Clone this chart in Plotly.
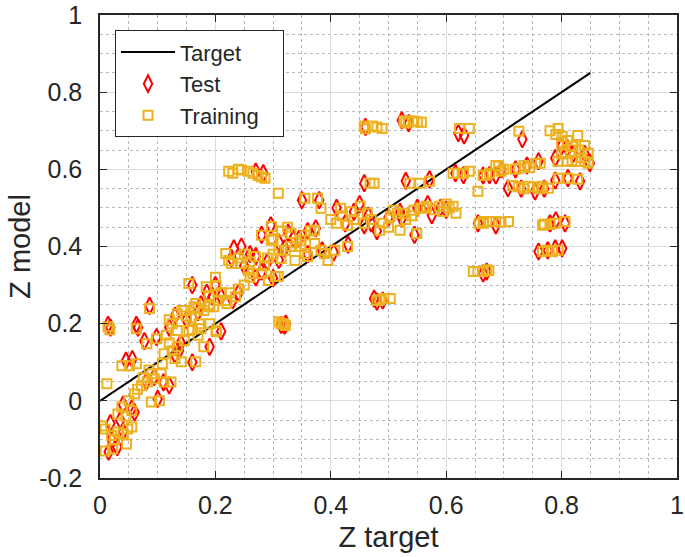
import plotly.graph_objects as go

# Target line
target_x = [0.0, 0.85]
target_y = [0.0, 0.85]

# Training points (squares)
train_x = [0.014, 0.017, 0.063, 0.086, 0.081, 0.098, 0.038, 0.051, 0.063, 0.012,
           0.134, 0.146, 0.163, 0.180, 0.197, 0.220, 0.134, 0.146, 0.134, 0.175,
           0.180, 0.202, 0.111, 0.108, 0.106, 0.141, 0.166, 0.082, 0.072, 0.094,
           0.111, 0.123, 0.060, 0.089, 0.103, 0.038, 0.031, 0.055, 0.009, 0.031,
           0.048, 0.055, 0.009, 0.022, 0.003, 0.046,
           0.223, 0.240, 0.257, 0.274, 0.286, 0.309, 0.154, 0.184, 0.201, 0.189,
           0.218, 0.235, 0.142, 0.166, 0.189, 0.172, 0.154, 0.201, 0.314, 0.321,
           0.218, 0.228, 0.245, 0.257, 0.280, 0.304, 0.269, 0.223, 0.297, 0.280,
           0.297, 0.331, 0.348, 0.355, 0.321, 0.314, 0.338, 0.360, 0.372, 0.383,
           0.389, 0.407, 0.429, 0.355, 0.377, 0.383, 0.417, 0.429, 0.451, 0.463,
           0.458, 0.475, 0.485, 0.503, 0.509, 0.527, 0.544, 0.520, 0.549, 0.566,
           0.588, 0.612, 0.617, 0.480, 0.503, 0.292, 0.309,
           0.458, 0.472, 0.489, 0.527, 0.544, 0.557, 0.623, 0.640, 0.726, 0.794,
           0.801, 0.828, 0.840, 0.846, 0.818, 0.794, 0.818, 0.846, 0.806,
           0.612, 0.630, 0.664, 0.686, 0.691, 0.655, 0.726, 0.755, 0.763, 0.715,
           0.743, 0.767, 0.777, 0.794, 0.811, 0.828, 0.468, 0.537, 0.554, 0.571,
           0.664, 0.686, 0.708, 0.657, 0.767, 0.789, 0.806, 0.767, 0.784, 0.794,
           0.647, 0.664, 0.674,
           0.372, 0.348, 0.395, 0.595, 0.561, 0.515,
           0.120, 0.125, 0.150, 0.158, 0.170, 0.190, 0.205, 0.210, 0.225, 0.240,
           0.250, 0.260, 0.265, 0.285, 0.290, 0.300, 0.310, 0.330, 0.340, 0.355,
           0.365, 0.300, 0.315, 0.325, 0.240, 0.250, 0.260, 0.200, 0.160, 0.170,
           0.190, 0.115, 0.120, 0.125, 0.130, 0.085, 0.090, 0.075, 0.065, 0.050,
           0.045, 0.020, 0.025, 0.040,
           0.400, 0.410, 0.420, 0.435, 0.440, 0.470, 0.490, 0.500, 0.530, 0.540,
           0.555, 0.580, 0.600, 0.605,
           0.800, 0.810, 0.820, 0.830, 0.835, 0.800, 0.810, 0.825, 0.840, 0.780,
           0.790, 0.695, 0.700, 0.720, 0.735, 0.745, 0.725, 0.735, 0.750, 0.760,
           0.670, 0.675, 0.620, 0.640,
           0.230, 0.245, 0.265, 0.280, 0.460, 0.480, 0.530, 0.535, 0.550,
           0.665, 0.675, 0.695, 0.770, 0.780, 0.775, 0.655, 0.670, 0.485, 0.492,
           0.318, 0.310]
train_y = [0.192, 0.184, 0.187, 0.239, 0.148, 0.161, 0.091, 0.091, 0.096, 0.044,
           0.226, 0.234, 0.244, 0.234, 0.244, 0.252, 0.182, 0.156, 0.140, 0.187,
           0.140, 0.179, 0.122, 0.096, 0.070, 0.101, 0.101, 0.049, 0.039, 0.057,
           0.049, 0.049, 0.018, -0.003, 0.000, -0.016, -0.034, -0.026, -0.073, -0.081,
           -0.073, -0.068, -0.130, -0.125, -0.065, -0.112,
           0.595, 0.600, 0.595, 0.584, 0.577, 0.538, 0.304, 0.296, 0.299, 0.270,
           0.260, 0.270, 0.234, 0.252, 0.244, 0.200, 0.182, 0.182, 0.200, 0.195,
           0.382, 0.356, 0.356, 0.338, 0.330, 0.322, 0.374, 0.364, 0.452, 0.429,
           0.416, 0.434, 0.416, 0.382, 0.390, 0.369, 0.364, 0.374, 0.408, 0.390,
           0.382, 0.390, 0.400, 0.525, 0.525, 0.499, 0.499, 0.455, 0.504, 0.486,
           0.460, 0.564, 0.442, 0.478, 0.494, 0.486, 0.494, 0.442, 0.434, 0.504,
           0.504, 0.504, 0.486, 0.260, 0.265, 0.312, 0.322,
           0.712, 0.712, 0.706, 0.725, 0.725, 0.722, 0.706, 0.706, 0.699, 0.706,
           0.686, 0.688, 0.662, 0.642, 0.660, 0.621, 0.623, 0.616, 0.642,
           0.590, 0.590, 0.584, 0.610, 0.608, 0.543, 0.603, 0.616, 0.616, 0.558,
           0.556, 0.556, 0.551, 0.577, 0.577, 0.574, 0.564, 0.564, 0.564, 0.569,
           0.465, 0.465, 0.465, 0.460, 0.455, 0.460, 0.465, 0.387, 0.387, 0.390,
           0.335, 0.335, 0.338,
           0.442, 0.400, 0.364, 0.491, 0.499, 0.486,
           0.210, 0.200, 0.220, 0.215, 0.240, 0.250, 0.260, 0.280, 0.280, 0.290,
           0.300, 0.320, 0.330, 0.350, 0.370, 0.380, 0.390, 0.400, 0.410, 0.430,
           0.440, 0.420, 0.440, 0.450, 0.370, 0.380, 0.360, 0.320, 0.185, 0.170,
           0.200, 0.170, 0.150, 0.130, 0.110, 0.080, 0.070, 0.060, 0.030, 0.000,
           -0.040, -0.090, -0.100, -0.085,
           0.470, 0.460, 0.480, 0.490, 0.470, 0.470, 0.460, 0.450, 0.470, 0.480,
           0.500, 0.495, 0.510, 0.500,
           0.670, 0.675, 0.660, 0.650, 0.630, 0.640, 0.620, 0.620, 0.620, 0.700,
           0.690, 0.595, 0.600, 0.600, 0.610, 0.605, 0.555, 0.550, 0.555, 0.550,
           0.585, 0.590, 0.590, 0.595,
           0.590, 0.598, 0.590, 0.580, 0.705, 0.710, 0.720, 0.725, 0.723,
           0.460, 0.465, 0.463, 0.458, 0.457, 0.390, 0.335, 0.340, 0.262, 0.265,
           0.200, 0.205]

# Test points (diamonds)
test_x = [0.014, 0.018, 0.063, 0.066, 0.086, 0.045, 0.056, 0.015, 0.030, 0.018,
          0.035, 0.094, 0.110, 0.137, 0.140, 0.098, 0.077, 0.040, 0.060, 0.100,
          0.120, 0.160, 0.190, 0.210, 0.150, 0.130, 0.175, 0.195, 0.185, 0.200,
          0.160, 0.230,
          0.232, 0.228, 0.250, 0.280, 0.300, 0.270, 0.280, 0.296, 0.326, 0.345,
          0.360, 0.320, 0.310, 0.374, 0.385, 0.405, 0.430, 0.283, 0.270, 0.314,
          0.322, 0.350, 0.380, 0.410, 0.425, 0.450, 0.465, 0.458, 0.458, 0.480,
          0.500, 0.520, 0.523, 0.545, 0.568, 0.575, 0.600, 0.480, 0.475,
          0.523, 0.621, 0.631, 0.732, 0.571, 0.530, 0.664, 0.686, 0.696, 0.760,
          0.789, 0.849, 0.810, 0.789, 0.811, 0.832, 0.707, 0.754, 0.770, 0.686,
          0.806, 0.790, 0.760, 0.789, 0.801, 0.664, 0.655, 0.616, 0.630, 0.840,
          0.210, 0.240, 0.270, 0.290, 0.310, 0.335, 0.360, 0.245, 0.260, 0.170,
          0.120, 0.130, 0.080, 0.055, 0.040, 0.020, 0.440, 0.470, 0.550, 0.590,
          0.820, 0.800, 0.720, 0.740, 0.730, 0.675, 0.460, 0.535, 0.780, 0.776,
          0.670, 0.490, 0.320]
test_y = [0.197, 0.190, 0.197, 0.190, 0.246, 0.104, 0.108, -0.132, -0.120, -0.058,
          -0.050, 0.062, 0.048, 0.130, 0.150, 0.165, 0.155, -0.010, -0.030, 0.005,
          0.040, 0.100, 0.140, 0.180, 0.210, 0.220, 0.250, 0.270, 0.280, 0.300,
          0.300, 0.260,
          0.395, 0.370, 0.350, 0.335, 0.318, 0.375, 0.430, 0.455, 0.436, 0.420,
          0.380, 0.395, 0.365, 0.447, 0.390, 0.385, 0.405, 0.590, 0.594, 0.197,
          0.200, 0.520, 0.520, 0.500, 0.460, 0.510, 0.480, 0.455, 0.564, 0.440,
          0.475, 0.490, 0.473, 0.430, 0.510, 0.481, 0.495, 0.257, 0.265,
          0.727, 0.694, 0.688, 0.678, 0.574, 0.570, 0.584, 0.584, 0.600, 0.621,
          0.629, 0.616, 0.655, 0.571, 0.577, 0.569, 0.551, 0.543, 0.550, 0.455,
          0.460, 0.468, 0.387, 0.395, 0.395, 0.330, 0.460, 0.590, 0.585, 0.640,
          0.270, 0.280, 0.320, 0.360, 0.410, 0.420, 0.440, 0.400, 0.380, 0.230,
          0.190, 0.120, 0.050, -0.020, -0.080, -0.100, 0.490, 0.460, 0.500, 0.500,
          0.640, 0.660, 0.600, 0.610, 0.550, 0.585, 0.710, 0.720, 0.460, 0.390,
          0.335, 0.260, 0.195]

x_ticks = [0, 0.2, 0.4, 0.6, 0.8, 1]
x_tick_labels = ["0", "0.2", "0.4", "0.6", "0.8", "1"]
y_ticks = [-0.2, 0, 0.2, 0.4, 0.6, 0.8, 1]
y_tick_labels = ["-0.2", "0", "0.2", "0.4", "0.6", "0.8", "1"]

TXT = "#262626"
FONT = "Liberation Sans, Arial, sans-serif"
PAD = "\u00a0\u00a0\u00a0"

fig = go.Figure()
fig.add_trace(go.Scatter(x=target_x, y=target_y, mode="lines", name="Target" + PAD,
                         line=dict(color="black", width=2)))
fig.add_trace(go.Scatter(x=test_x, y=test_y, mode="markers", name="Test",
                         marker=dict(symbol="diamond-tall-open", size=12,
                                     color="#FF0000", line=dict(width=2, color="#FF0000"))))
fig.add_trace(go.Scatter(x=train_x, y=train_y, mode="markers", name="Training" + PAD,
                         marker=dict(symbol="square-open", size=9,
                                     color="#EDB120", line=dict(width=2, color="#EDB120"))))

axis_common = dict(
    showline=True, linecolor=TXT, linewidth=1.5, mirror="ticks",
    ticks="inside", ticklen=7, tickwidth=1.2, tickcolor=TXT,
    showgrid=True, gridcolor="#DCDCDC", gridwidth=1,
    zeroline=False, ticklabeloverflow="allow",
    tickfont=dict(family=FONT, size=25, color=TXT),
    minor=dict(showgrid=True, gridcolor="#B8B8B8", griddash="dot", gridwidth=1, ticks=""),
)

fig.update_layout(
    width=685, height=557,
    margin=dict(l=100, r=8, t=15, b=79),
    paper_bgcolor="white", plot_bgcolor="white",
    font=dict(family=FONT, color=TXT),
    showlegend=True,
    legend=dict(x=0.026, y=0.967, xanchor="left", yanchor="top",
                bgcolor="white", bordercolor=TXT, borderwidth=1,
                font=dict(family=FONT, size=22, color=TXT),
                tracegroupgap=0, itemwidth=54),
    xaxis=dict(range=[0, 1], tickvals=x_ticks, ticktext=x_tick_labels,
               title=dict(text="Z target", font=dict(family=FONT, size=29, color=TXT), standoff=9),
               minor_dtick=0.05, ticklabelstandoff=4, automargin=False, **axis_common),
    yaxis=dict(range=[-0.2, 1], tickvals=y_ticks, ticktext=y_tick_labels,
               title=dict(text="Z model", font=dict(family=FONT, size=29, color=TXT), standoff=0),
               minor_dtick=0.05, ticklabelstandoff=11, automargin=False, **axis_common),
)

fig.write_html("out.html", config={"displayModeBar": False},
               post_script="document.body.style.margin='0';document.body.style.overflow='hidden';")
